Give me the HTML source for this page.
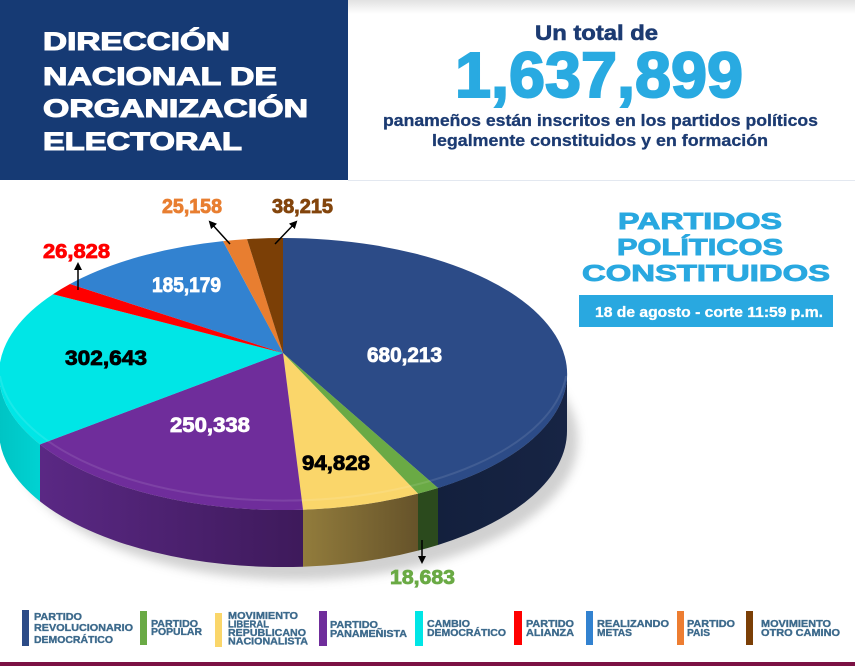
<!DOCTYPE html>
<html>
<head>
<meta charset="utf-8">
<style>
html,body{margin:0;padding:0;background:#fff;}
svg{display:block;}
text{font-family:"Liberation Sans",Arial,sans-serif;font-weight:bold;}
</style>
</head>
<body>
<svg width="855" height="666" viewBox="0 0 855 666" xmlns="http://www.w3.org/2000/svg">
<defs>
  <linearGradient id="topfade" x1="0" y1="0" x2="0" y2="1">
    <stop offset="0" stop-color="#e2e2e2"/>
    <stop offset="1" stop-color="#ffffff"/>
  </linearGradient>
  <linearGradient id="molSide" x1="0" y1="0" x2="1" y2="0">
    <stop offset="0" stop-color="#927c3c"/>
    <stop offset="1" stop-color="#66532a"/>
  </linearGradient>
  <linearGradient id="panSide" x1="0" y1="0" x2="1" y2="0">
    <stop offset="0" stop-color="#5a2884"/>
    <stop offset="1" stop-color="#3e1a5b"/>
  </linearGradient>
  <linearGradient id="cdSide" x1="0" y1="0" x2="1" y2="0">
    <stop offset="0" stop-color="#00c4c4"/>
    <stop offset="1" stop-color="#00d2d2"/>
  </linearGradient>
  <linearGradient id="prdSide" x1="0" y1="0" x2="1" y2="0">
    <stop offset="0" stop-color="#13203d"/>
    <stop offset="1" stop-color="#172444"/>
  </linearGradient>
  <filter id="blur" x="-20%" y="-20%" width="140%" height="140%">
    <feGaussianBlur stdDeviation="5"/>
  </filter>
  <marker id="ah" markerWidth="8" markerHeight="8" refX="6" refY="4" orient="auto" markerUnits="userSpaceOnUse">
    <path d="M0,0 L8,4 L0,8 Z" fill="#000"/>
  </marker>
</defs>

<!-- top fade band -->
<rect x="348" y="0" width="507" height="14" fill="url(#topfade)"/>

<!-- header block -->
<rect x="0" y="0" width="348" height="180" fill="#163a74"/>
<g fill="#fff" stroke="#fff" stroke-width="1.1" font-size="25">
<text x="43" y="50" textLength="187" lengthAdjust="spacingAndGlyphs">DIRECCIÓN</text>
<text x="43" y="85" textLength="234" lengthAdjust="spacingAndGlyphs">NACIONAL DE</text>
<text x="43" y="117" textLength="265" lengthAdjust="spacingAndGlyphs">ORGANIZACIÓN</text>
<text x="43" y="150" textLength="199" lengthAdjust="spacingAndGlyphs">ELECTORAL</text>
</g>

<!-- separator line -->
<rect x="348" y="180" width="507" height="1" fill="#e3e8f0"/>

<!-- headline -->
<text x="535" y="40" font-size="21" fill="#1c3b72" stroke="#1c3b72" stroke-width="0.6" textLength="123" lengthAdjust="spacingAndGlyphs">Un total de</text>
<text x="455" y="97" font-size="64" fill="#29aae1" stroke="#29aae1" stroke-width="2" textLength="288" lengthAdjust="spacingAndGlyphs">1,637,899</text>
<text x="383" y="126" font-size="17" fill="#1c3b72" stroke="#1c3b72" stroke-width="0.3" textLength="435" lengthAdjust="spacingAndGlyphs">panameños están inscritos en los partidos políticos</text>
<text x="432" y="146" font-size="17" fill="#1c3b72" stroke="#1c3b72" stroke-width="0.3" textLength="336" lengthAdjust="spacingAndGlyphs">legalmente constituidos y en formación</text>

<!-- right title -->
<g font-size="23" fill="#29a8e0" stroke="#29a8e0" stroke-width="0.9">
<text x="618" y="229" textLength="164" lengthAdjust="spacingAndGlyphs">PARTIDOS</text>
<text x="617" y="255" textLength="166" lengthAdjust="spacingAndGlyphs">POLÍTICOS</text>
<text x="582" y="281" textLength="248" lengthAdjust="spacingAndGlyphs">CONSTITUIDOS</text>
</g>
<rect x="579" y="295" width="254" height="32" fill="#29a8e0"/>
<text x="595" y="317" font-size="15" fill="#fff" stroke="#fff" stroke-width="0.3" textLength="228" lengthAdjust="spacingAndGlyphs">18 de agosto - corte 11:59 p.m.</text>

<!-- pie shadow -->
<ellipse cx="296" cy="440" rx="282" ry="140" fill="#7a7a7a" opacity="0.35" filter="url(#blur)"/>

<!-- sides -->
<path d="M567,374 A284,136 0 0 1 438,488 L438,545 A284,136 0 0 0 567,431 Z" fill="url(#prdSide)"/>
<path d="M438,488 A284,136 0 0 1 418,493.6 L418,550.6 A284,136 0 0 0 438,545 Z" fill="#2b4a1d"/>
<path d="M418,493.6 A284,136 0 0 1 303,509.7 L303,566.7 A284,136 0 0 0 418,550.6 Z" fill="url(#molSide)"/>
<path d="M303,509.7 A284,136 0 0 1 40,444.4 L40,501.4 A284,136 0 0 0 303,566.7 Z" fill="url(#panSide)"/>
<path d="M40,444.4 A284,136 0 0 1 -1,374 L-1,431 A284,136 0 0 0 40,501.4 Z" fill="url(#cdSide)"/>

<!-- top faces -->
<path d="M283,353 L283,238 A284,136 0 0 1 438,488 Z" fill="#2c4b87"/>
<path d="M283,353 L438,488 A284,136 0 0 1 418,493.6 Z" fill="#6aaa45"/>
<path d="M283,353 L418,493.6 A284,136 0 0 1 303,509.7 Z" fill="#fad66a"/>
<path d="M283,353 L303,509.7 A284,136 0 0 1 40,444.4 Z" fill="#6f2d9b"/>
<path d="M283,353 L40,444.4 A284,136 0 0 1 53,294.2 Z" fill="#00e6e6"/>
<path d="M283,353 L53,294.2 A284,136 0 0 1 70,284 Z" fill="#ff0000"/>
<path d="M283,353 L70,284 A284,136 0 0 1 223,241.1 Z" fill="#3282d0"/>
<path d="M283,353 L223,241.1 A284,136 0 0 1 247,239.1 Z" fill="#e87e30"/>
<path d="M283,353 L247,239.1 A284,136 0 0 1 283,238 Z" fill="#7b3f06"/>

<!-- rim highlight -->
<path d="M566,376 A284,136 0 0 1 0,376" fill="none" stroke="#ffffff" stroke-opacity="0.1" stroke-width="2"/>

<!-- pie labels -->
<g font-size="21" stroke-width="0.8">
<text x="367" y="362" fill="#fff" stroke="#fff" textLength="75" lengthAdjust="spacingAndGlyphs">680,213</text>
<text x="152" y="292" fill="#fff" stroke="#fff" textLength="69" lengthAdjust="spacingAndGlyphs">185,179</text>
<text x="65" y="365" fill="#000" stroke="#000" textLength="82" lengthAdjust="spacingAndGlyphs">302,643</text>
<text x="170" y="432" fill="#fff" stroke="#fff" textLength="80" lengthAdjust="spacingAndGlyphs">250,338</text>
<text x="302" y="470" fill="#000" stroke="#000" textLength="68" lengthAdjust="spacingAndGlyphs">94,828</text>
</g>
<g font-size="20" stroke-width="0.8">
<text x="390" y="584" fill="#6aaa45" stroke="#6aaa45" textLength="65" lengthAdjust="spacingAndGlyphs">18,683</text>
<text x="43" y="258" fill="#ff0000" stroke="#ff0000" textLength="67" lengthAdjust="spacingAndGlyphs">26,828</text>
<text x="162" y="213" fill="#e87e30" stroke="#e87e30" textLength="60" lengthAdjust="spacingAndGlyphs">25,158</text>
<text x="272" y="213" fill="#83450c" stroke="#83450c" textLength="61" lengthAdjust="spacingAndGlyphs">38,215</text>
</g>

<!-- arrows -->
<line x1="78" y1="290" x2="78" y2="264" stroke="#000" stroke-width="1.5" marker-end="url(#ah)"/>
<line x1="230" y1="244" x2="210" y2="222" stroke="#000" stroke-width="1.5" marker-end="url(#ah)"/>
<line x1="275" y1="244" x2="296" y2="222" stroke="#000" stroke-width="1.5" marker-end="url(#ah)"/>
<line x1="422" y1="540" x2="422" y2="562" stroke="#000" stroke-width="1.5" marker-end="url(#ah)"/>

<!-- legend -->
<g font-size="10" fill="#3d6a8c" stroke="#3d6a8c" stroke-width="0.35">
  <rect x="22" y="610" width="7" height="36" fill="#2c4b87" stroke="none"/>
  <text x="34" y="620" textLength="48" lengthAdjust="spacingAndGlyphs">PARTIDO</text>
  <text x="34" y="631" textLength="99" lengthAdjust="spacingAndGlyphs">REVOLUCIONARIO</text>
  <text x="34" y="643" textLength="79" lengthAdjust="spacingAndGlyphs">DEMOCRÁTICO</text>

  <rect x="140" y="611" width="7" height="34" fill="#6aaa45" stroke="none"/>
  <text x="151" y="627" textLength="47" lengthAdjust="spacingAndGlyphs">PARTIDO</text>
  <text x="151" y="635" textLength="51" lengthAdjust="spacingAndGlyphs">POPULAR</text>

  <rect x="215" y="613" width="7" height="34" fill="#fad66a" stroke="none"/>
  <text x="228" y="619" textLength="70" lengthAdjust="spacingAndGlyphs">MOVIMIENTO</text>
  <text x="228" y="627.5" textLength="41" lengthAdjust="spacingAndGlyphs">LIBERAL</text>
  <text x="228" y="636" textLength="78" lengthAdjust="spacingAndGlyphs">REPUBLICANO</text>
  <text x="228" y="644.5" textLength="80" lengthAdjust="spacingAndGlyphs">NACIONALISTA</text>

  <rect x="319" y="611" width="8" height="35" fill="#6f2d9b" stroke="none"/>
  <text x="330" y="628" textLength="48" lengthAdjust="spacingAndGlyphs">PARTIDO</text>
  <text x="330" y="637" textLength="77" lengthAdjust="spacingAndGlyphs">PANAMEÑISTA</text>

  <rect x="415" y="611" width="8" height="35" fill="#00e6e6" stroke="none"/>
  <text x="427" y="627" textLength="43" lengthAdjust="spacingAndGlyphs">CAMBIO</text>
  <text x="427" y="636" textLength="79" lengthAdjust="spacingAndGlyphs">DEMOCRÁTICO</text>

  <rect x="514" y="611" width="8" height="34" fill="#ff0000" stroke="none"/>
  <text x="526" y="627" textLength="48" lengthAdjust="spacingAndGlyphs">PARTIDO</text>
  <text x="526" y="636" textLength="48" lengthAdjust="spacingAndGlyphs">ALIANZA</text>

  <rect x="586" y="611" width="7" height="34" fill="#3282d0" stroke="none"/>
  <text x="597" y="627" textLength="72" lengthAdjust="spacingAndGlyphs">REALIZANDO</text>
  <text x="597" y="636" textLength="35" lengthAdjust="spacingAndGlyphs">METAS</text>

  <rect x="677" y="611" width="7" height="34" fill="#ed7d31" stroke="none"/>
  <text x="687" y="627" textLength="48" lengthAdjust="spacingAndGlyphs">PARTIDO</text>
  <text x="687" y="636" textLength="23" lengthAdjust="spacingAndGlyphs">PAIS</text>

  <rect x="746" y="611" width="7" height="34" fill="#7b3f06" stroke="none"/>
  <text x="761" y="627" textLength="70" lengthAdjust="spacingAndGlyphs">MOVIMIENTO</text>
  <text x="761" y="636" textLength="79" lengthAdjust="spacingAndGlyphs">OTRO CAMINO</text>
</g>

<!-- bottom bar -->
<rect x="0" y="662" width="855" height="4" fill="#7b1144"/>
</svg>
</body>
</html>
